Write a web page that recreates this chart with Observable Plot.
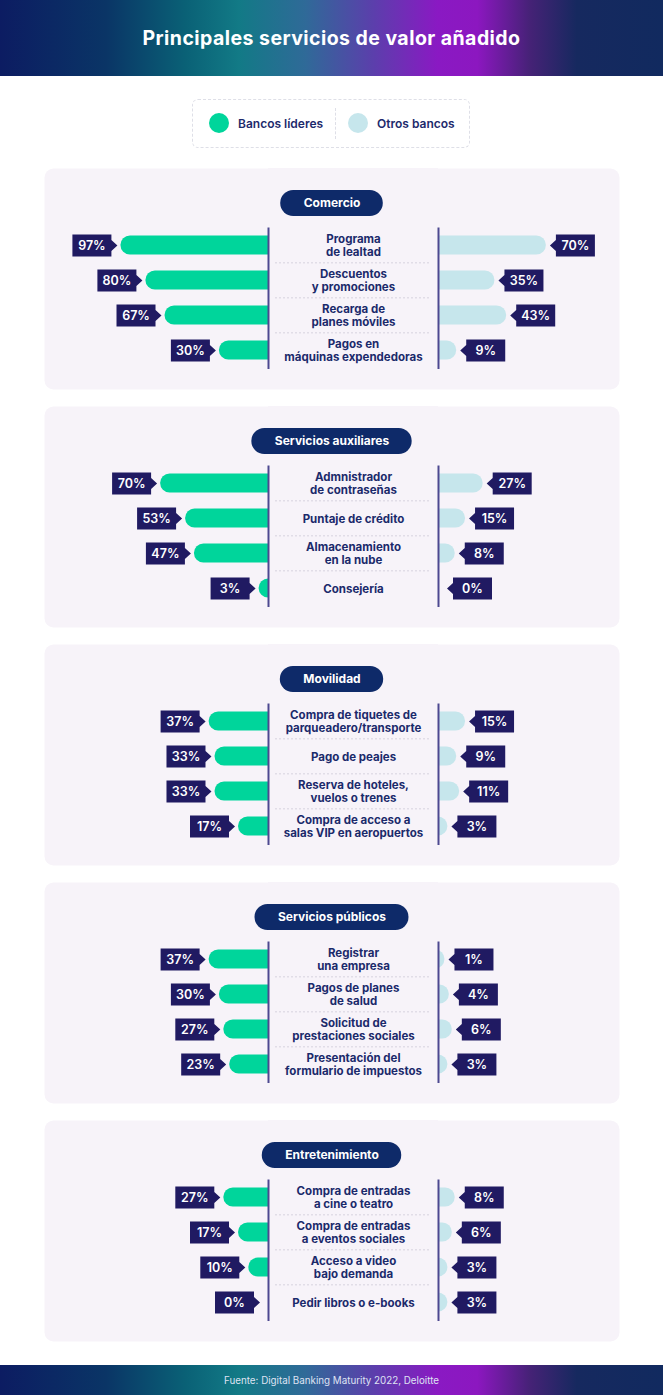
<!DOCTYPE html>
<html><head><meta charset="utf-8">
<script src="https://cdn.jsdelivr.net/npm/d3@7"></script>
<script src="https://cdn.jsdelivr.net/npm/@observablehq/plot@0.6"></script>
<style>
body{margin:0;background:#fff;font-family:Inter,"Open Sans",sans-serif;}
#page{width:663px;position:relative;}
.band{background:linear-gradient(90deg,#0c1c62 0%,#0a3566 16%,#0a6176 28%,#127a86 36%,#2f6a98 46%,#5a40ab 56%,#8a19c3 66%,#8c17c0 72%,#452276 80%,#16295f 87%,#112a5f 100%);color:#fff;display:flex;align-items:center;justify-content:center;}
.header{height:76px;font-weight:700;font-size:19.5px;letter-spacing:0.45px;}
.legend{position:relative;height:92px;}
.legbox{position:absolute;left:192px;top:23px;width:276px;height:47px;border:1px dashed #dedfe7;border-radius:6px;}
.legsep{position:absolute;left:142px;top:8px;height:31px;border-left:1px dashed #dedfe7;}
.dot{position:absolute;top:13px;width:20px;height:20px;border-radius:50%;}
.lab{position:absolute;top:0;height:47px;line-height:47px;font-size:12px;font-weight:600;color:#1d2a6c;}
#panels svg{display:block;margin-bottom:17px;}
#panels svg:last-child{margin-bottom:0;}
.footer{margin-top:24px;height:30px;font-size:9.8px;color:#dfe3f3;font-weight:400;}
</style></head>
<body><div id="page">
<div class="band header">Principales servicios de valor añadido</div>
<div class="legend"><div class="legbox">
  <div class="dot" style="left:16px;background:#00d59b"></div>
  <div class="lab" style="left:45px">Bancos líderes</div>
  <div class="legsep"></div>
  <div class="dot" style="left:155px;background:#c6e6ec"></div>
  <div class="lab" style="left:184px">Otros bancos</div>
</div></div>
<div id="panels"></div>
<div class="band footer">Fuente: Digital Banking Maturity 2022, Deloitte</div>
</div>
<script>
const categories = ["Comercio", "Servicios auxiliares", "Movilidad", "Servicios públicos", "Entretenimiento"];
const services = [
  ["Programa\nde lealtad", "Descuentos\ny promociones", "Recarga de\nplanes móviles", "Pagos en\nmáquinas expendedoras"],
  ["Admnistrador\nde contraseñas", "Puntaje de crédito", "Almacenamiento\nen la nube", "Consejería"],
  ["Compra de tiquetes de\nparqueadero/transporte", "Pago de peajes", "Reserva de hoteles,\nvuelos o trenes", "Compra de acceso a\nsalas VIP en aeropuertos"],
  ["Registrar\nuna empresa", "Pagos de planes\nde salud", "Solicitud de\nprestaciones sociales", "Presentación del\nformulario de impuestos"],
  ["Compra de entradas\na cine o teatro", "Compra de entradas\na eventos sociales", "Acceso a video\nbajo demanda", "Pedir libros o e-books"]
];
const bancosLideres = [
  [97, 80, 67, 30],
  [70, 53, 47, 3],
  [37, 33, 33, 17],
  [37, 30, 27, 23],
  [27, 17, 10, 0]
];
const otrosBancos = [
  [70, 35, 43, 9],
  [27, 15, 8, 0],
  [15, 9, 11, 3],
  [1, 4, 6, 3],
  [8, 6, 3, 3]
];

const FONT = "Inter, 'Open Sans', sans-serif";
const BG = "#f7f3f9", GREEN = "#00d59b", BLUE = "#c6e6ec", TAG = "#201a62", PILL = "#0e2a69", NAVY = "#1b2a6b", AXIS = "#4d4890";
const HALF = 85; // half gap between the two axes (px)
const TIP = 8.5; // distance from value end to tag tip (px)

const tagL = {draw(ctx) { ctx.moveTo(0,0); ctx.lineTo(-6,-5.5); ctx.lineTo(-6,-11); ctx.lineTo(-45,-11); ctx.lineTo(-45,11); ctx.lineTo(-6,11); ctx.lineTo(-6,5.5); ctx.closePath(); }};
const tagR = {draw(ctx) { ctx.moveTo(0,0); ctx.lineTo(6,-5.5); ctx.lineTo(6,-11); ctx.lineTo(45,-11); ctx.lineTo(45,11); ctx.lineTo(6,11); ctx.lineTo(6,5.5); ctx.closePath(); }};

const mctx = document.createElement("canvas").getContext("2d");
function textWidth(s, font) { mctx.font = font; return mctx.measureText(s).width; }

function panel(ci) {
  const cat = categories[ci];
  const rows = d3.range(4).map(r => ({r, label: services[ci][r], lead: bancosLideres[ci][r], other: otrosBancos[ci][r]}));
  const W = 663, H = 221, mL = 44, mR = 44;
  const pillW = textWidth(cat, "700 12px Inter") + 46;
  const pillInset = (W - mL - mR - pillW) / 2;
  return Plot.plot({
    width: W, height: H, marginLeft: mL, marginRight: mR, marginTop: 0, marginBottom: 0,
    style: {fontFamily: FONT, background: "transparent", overflow: "visible"},
    x: {domain: [-100, 100], range: [353 - 147, 353 + 147], axis: null},
    y: {type: "point", domain: [0, 1, 2, 3], range: [76, 182], padding: 0, axis: null},
    marks: [
      Plot.frame({fill: BG, stroke: "none", rx: 9, ry: 9}),
      Plot.rect(rows.filter(d => d.lead > 0), {x1: d => -d.lead, x2: d => 0, y1: "r", y2: "r", dx: -HALF,
        insetTop: -9.5, insetBottom: -9.5, insetLeft: -5, insetRight: -12, rx: 9.5, ry: 9.5, fill: GREEN}),
      Plot.rect(rows.filter(d => d.other > 0), {x1: d => 0, x2: d => d.other, y1: "r", y2: "r", dx: HALF,
        insetTop: -9.5, insetBottom: -9.5, insetLeft: -12, insetRight: -5, rx: 9.5, ry: 9.5, fill: BLUE}),
      Plot.rect([0], {x1: d => d, x2: d => d, insetLeft: -HALF, insetRight: -HALF, fill: BG}),
      Plot.ruleY([1, 2, 3], {y: d => d, dy: -17.67, insetLeft: 231, insetRight: 189, stroke: "#d6d2de", strokeDasharray: "2,2", strokeWidth: 1}),
      Plot.ruleX([0], {x: d => d, dx: -HALF, insetTop: 59.5, insetBottom: 20, stroke: AXIS, strokeWidth: 2}),
      Plot.ruleX([0], {x: d => d, dx: HALF, insetTop: 59.5, insetBottom: 20, stroke: AXIS, strokeWidth: 2}),
      Plot.rect([cat], {insetLeft: pillInset, insetRight: pillInset, insetTop: 22, insetBottom: H - 48, rx: 13, ry: 13, fill: PILL}),
      Plot.text([cat], {text: d => d, frameAnchor: "top", lineAnchor: "middle", dy: 35, fill: "white", fontSize: 12, fontWeight: 700}),
      Plot.text(rows, {x: d => 0, y: "r", text: "label", fill: NAVY, fontSize: 11.5, fontWeight: 700, lineHeight: 1.1,
        style: "letter-spacing:0.25px"}),
      Plot.dot(rows, {x: d => -d.lead, y: "r", symbol: tagL, fill: TAG, stroke: "none", dx: -(HALF + TIP)}),
      Plot.text(rows, {x: d => -d.lead, y: "r", text: d => d.lead + "%", dx: -(HALF + TIP + 25.5), fill: "white", fontSize: 12.5, fontWeight: 600}),
      Plot.dot(rows, {x: d => d.other, y: "r", symbol: tagR, fill: TAG, stroke: "none", dx: HALF + TIP}),
      Plot.text(rows, {x: d => d.other, y: "r", text: d => d.other + "%", dx: HALF + TIP + 25.5, fill: "white", fontSize: 12.5, fontWeight: 600})
    ]
  });
}
const container = document.getElementById("panels");
categories.forEach((c, i) => container.appendChild(panel(i)));
</script>
</body></html>
